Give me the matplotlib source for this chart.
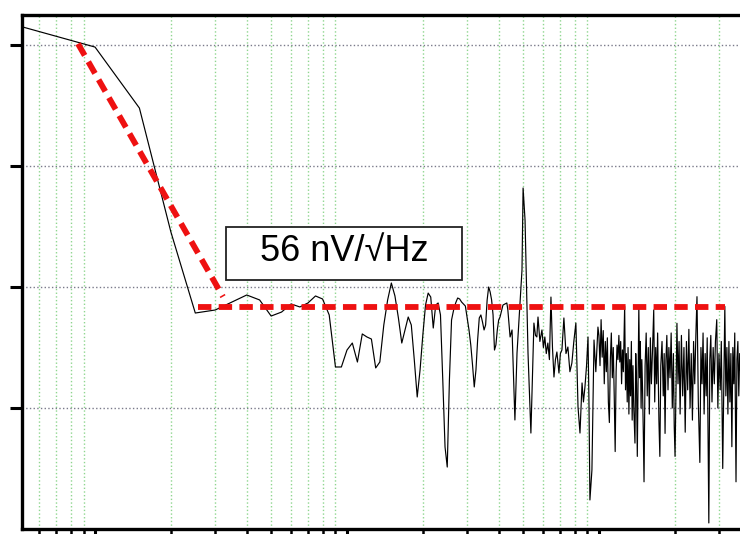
import matplotlib.pyplot as plt
from matplotlib.patches import Rectangle
from matplotlib.ticker import LogLocator, NullFormatter

# noise spectrum, frequency in Hz, level in decades (log10 of nV/sqrt(Hz) scale)
freq_low = [5, 10, 15, 20, 25, 30, 35, 40, 45, 50, 55, 60, 65, 70, 75, 80, 85, 90, 95, 100,
            105, 110, 115, 120, 125, 130, 135, 140, 145, 150, 155, 160, 165, 170, 175, 180, 185, 190, 195, 200,
            205, 210, 215, 220, 225, 230, 235, 240, 245, 250, 255, 260, 265, 270, 275, 280, 285, 290, 295, 300,
            305, 310, 315, 320, 325, 330, 335, 340, 345, 350, 355, 360, 365, 370, 375, 380, 385, 390, 395, 400, 405]
level_low = [4.157, 3.983, 3.479, 2.455, 1.785, 1.810, 1.876, 1.934, 1.893, 1.760, 1.793, 1.860, 1.835, 1.868,
             1.926, 1.901, 1.769, 1.339, 1.339, 1.479, 1.537, 1.380, 1.612, 1.587, 1.570, 1.331, 1.380, 1.686,
             1.893, 2.033, 1.926, 1.744, 1.537, 1.645, 1.752, 1.686, 1.397, 1.091, 1.314, 1.603, 1.851, 1.950,
             1.917, 1.661, 1.851, 1.868, 1.769, 1.231, 0.678, 0.512, 1.231, 1.727, 1.810, 1.868, 1.909, 1.901,
             1.876, 1.860, 1.843, 1.744, 1.645, 1.521, 1.355, 1.174, 1.314, 1.562, 1.744, 1.769, 1.711, 1.645,
             1.686, 1.893, 2.000, 1.959, 1.893, 1.769, 1.479, 1.521, 1.645, 1.727, 1.752]

freq_mid = [416, 431, 435, 444, 452, 464, 473, 495, 500, 509, 523, 537, 552, 560, 567, 573, 583, 594, 602, 610,
            618, 627, 636, 645, 654, 663, 672, 681, 694, 703, 713, 726, 740, 753, 767, 781, 795, 810, 826, 841,
            857, 868, 880, 893, 905, 913, 921, 938, 956, 972, 991]
level_mid = [1.851, 1.868, 1.810, 1.587, 1.645, 0.901, 1.455, 2.140, 2.818, 2.554, 1.455, 0.793, 1.702, 1.60,
             1.587, 1.752, 1.55, 1.645, 1.50, 1.587, 1.45, 1.537, 1.40, 1.917, 1.50, 1.256, 1.40, 1.463, 1.289,
             1.45, 1.479, 1.744, 1.45, 1.504, 1.30, 1.372, 1.55, 1.702, 1.008, 0.793, 1.207, 1.05, 1.174, 1.35,
             1.587, 1.041, 0.240, 0.488, 1.562, 1.30, 1.669]

freq_high = [1000, 1010, 1020, 1030, 1040, 1050, 1060, 1070, 1080, 1090, 1100, 1110, 1120, 1130, 1140, 1150,
             1160, 1170, 1180, 1190, 1200, 1210, 1220, 1230, 1240, 1250, 1265, 1275, 1285, 1295, 1305, 1315,
             1325, 1335, 1345, 1355, 1365, 1375, 1390, 1400, 1410, 1420, 1440, 1450, 1460, 1470, 1480, 1490,
             1500, 1510, 1525, 1540, 1555, 1570, 1585, 1600, 1615, 1630, 1650, 1665, 1680, 1695, 1710, 1730,
             1745, 1760, 1780, 1800, 1815, 1830, 1845, 1860, 1880, 1895, 1915, 1935, 1955, 1975, 1990, 2005,
             2040, 2060, 2080, 2100, 2125, 2150, 2175, 2200, 2225, 2250, 2275, 2300, 2325, 2350, 2375, 2400,
             2425, 2450, 2480, 2515, 2540, 2565, 2590, 2615, 2640, 2665, 2690, 2710, 2730, 2755, 2780, 2810,
             2840, 2870, 2900, 2935, 2965, 2995, 3030, 3060, 3100, 3160, 3190, 3220, 3250, 3280, 3310, 3340,
             3370, 3400, 3430, 3460, 3500, 3530, 3560, 3590, 3620, 3650]
level_high = [1.60, 1.35, 1.73, 1.42, 1.64, 1.20, 1.55, 1.30, 1.58, 1.05, 0.88, 1.40, 1.62, 1.25, 1.50, 1.10,
              0.64, 1.30, 1.52, 1.40, 1.60, 1.38, 1.55, 1.20, 1.48, 1.30, 1.84, 1.15, 1.45, 1.05, 1.50, 0.95,
              1.40, 1.10, 1.55, 0.90, 1.35, 1.00, 0.71, 1.45, 1.20, 0.60, 1.84, 1.25, 1.55, 1.00, 1.40, 1.15,
              0.80, 0.39, 1.35, 1.62, 1.10, 1.50, 0.95, 1.58, 1.20, 1.45, 1.81, 1.05, 1.50, 1.20, 1.62, 0.90,
              0.60, 1.35, 1.55, 1.10, 1.45, 0.79, 1.40, 1.60, 1.15, 1.50, 1.25, 1.62, 1.00, 1.45, 0.85, 0.60,
              1.70, 1.20, 1.55, 0.95, 1.60, 1.10, 1.50, 0.80, 1.55, 1.15, 1.65, 1.00, 1.45, 0.90, 1.55, 1.20,
              1.60, 1.92, 1.05, 0.55, 1.50, 1.20, 1.62, 0.95, 1.45, 1.10, 1.58, 0.85, 0.05, 1.40, 1.60, 1.05,
              1.50, 1.20, 1.55, 1.73, 1.00, 1.45, 1.15, 1.55, 0.50, 1.84, 1.10, 1.50, 0.95, 1.55, 1.05, 1.45,
              0.68, 1.50, 1.20, 1.62, 0.39, 1.40, 1.55, 1.10, 1.45, 1.30]

# red guide lines: 1/f slope and the white noise floor
slope_freq = [8.56, 32.2]
slope_level = [4.01, 1.92]
floor_freq = [25.6, 3160]
floor_level = [1.835, 1.835]
floor_label = '56 nV/\u221aHz'

freq = freq_low + freq_mid + freq_high
level = level_low + level_mid + level_high

fig = plt.figure(figsize=(7.4, 5.34), dpi=100)
ax = fig.add_axes([22 / 740, 5 / 534, 718 / 740, 514 / 534])

ax.set_xscale('log')
ax.set_xlim(5.13, 3630)
ax.set_ylim(0, 4.248)

ax.xaxis.set_major_locator(LogLocator(base=10))
ax.xaxis.set_minor_locator(LogLocator(base=10, subs=range(2, 10)))
ax.xaxis.set_minor_formatter(NullFormatter())
ax.set_yticks([1, 2, 3, 4])

ax.grid(True, axis='x', which='minor', color='#8fd68f', linestyle=':', linewidth=1.0)
ax.grid(True, axis='y', which='major', color='#7a7a8a', linestyle=':', linewidth=1.0)
ax.set_axisbelow(True)

ax.plot(freq, level, color='black', linewidth=0.85, zorder=3)
ax.plot(slope_freq, slope_level, color='#ee1111', linewidth=4.2, dashes=(2.3, 1.25), zorder=4)
ax.plot(floor_freq, floor_level, color='#ee1111', linewidth=4.2, dashes=(2.3, 1.25), zorder=4)

box = Rectangle((0.284, 0.484), 0.329, 0.1035, transform=ax.transAxes, facecolor='white',
                edgecolor='#222222', linewidth=1.3, zorder=5)
ax.add_patch(box)
ax.text(0.4485, 0.540, floor_label, transform=ax.transAxes, ha='center', va='center',
        fontsize=26, family=['Liberation Sans', 'DejaVu Sans'], color='black', zorder=6)

for side in ('left', 'bottom', 'top'):
    ax.spines[side].set_linewidth(2.4)
ax.spines['right'].set_visible(False)

ax.tick_params(axis='y', which='major', direction='out', length=9, width=2.2, labelleft=False)
ax.tick_params(axis='x', which='both', direction='out', length=8, width=1.8, labelbottom=False)
ax.tick_params(axis='x', which='major', width=2.2)

fig.savefig('out.png', dpi=100)
